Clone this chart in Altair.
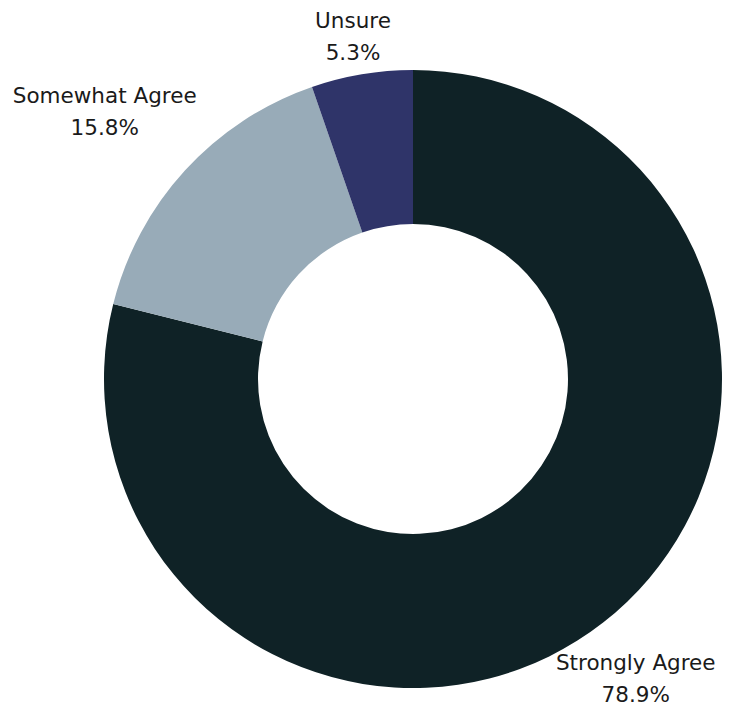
import altair as alt
import pandas as pd

categories = ["Strongly Agree", "Somewhat Agree", "Unsure"]
values = [78.9, 15.8, 5.3]
colors = ["#0f2226", "#98abb8", "#2f3469"]
label_radius = [362, 418, 362]

df = pd.DataFrame({
    "category": categories,
    "value": values,
    "order": list(range(len(categories))),
    "lr": label_radius,
})
df["label"] = df["category"] + "\n" + df["value"].map(lambda v: f"{v:.1f}%")

cx, cy = 405, 371
total = sum(values)

arcs = alt.Chart(df).mark_arc(outerRadius=309, innerRadius=155).encode(
    theta=alt.Theta("value:Q", stack=True),
    order=alt.Order("order:Q"),
    x=alt.value(cx), y=alt.value(cy),
    color=alt.Color("category:N",
                    scale=alt.Scale(domain=categories, range=colors),
                    legend=None),
)

labels = alt.Chart(df).transform_window(
    cum="sum(value)", sort=[alt.SortField("order")]
).transform_calculate(
    mid="datum.cum - datum.value / 2"
).mark_text(
    font="DejaVu Sans", fontSize=21.5, color="#1a1a1a", lineBreak="\n",
    lineHeight=32, align="center", baseline="middle",
).encode(
    theta=alt.Theta("mid:Q", stack=None, scale=alt.Scale(domain=[0, total])),
    x=alt.value(cx), y=alt.value(cy),
    radius=alt.Radius("lr:Q", scale=None),
    text="label:N",
)

chart = alt.layer(arcs, labels).properties(
    width=736, height=705, padding=0,
    autosize=alt.AutoSizeParams(type="none"),
).configure_view(stroke=None)

chart.save("out.html", embed_options={"renderer": "svg", "actions": False})
